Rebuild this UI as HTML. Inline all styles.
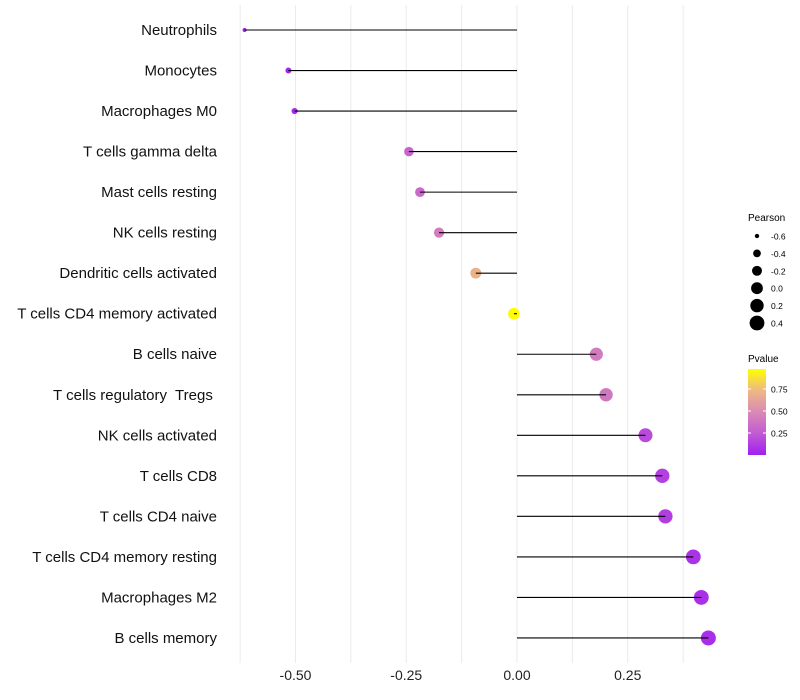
<!DOCTYPE html>
<html><head><meta charset="utf-8"><style>
body{margin:0;background:#fff;}
svg{display:block;font-family:"Liberation Sans",sans-serif;}
text{white-space:pre;}
</style></head><body>
<svg id="chart" width="800" height="700">
<defs>
<linearGradient id="pg" x1="0" y1="1" x2="0" y2="0">
<stop offset="0" stop-color="#a020f0"/>
<stop offset="0.25" stop-color="#c35ad4"/>
<stop offset="0.5" stop-color="#d98ab4"/>
<stop offset="0.75" stop-color="#eeb884"/>
<stop offset="1" stop-color="#ffff00"/>
</linearGradient>
</defs>
<g id="grid"></g>
<g id="marks"></g>
<g id="ylabels"></g>
<g id="xlabels"></g>
<g id="legend">
<text x="748" y="221" font-size="10" fill="#000">Pearson</text>
<text x="748" y="362" font-size="10" fill="#000">Pvalue</text>
<rect x="748" y="369" width="18" height="86" fill="url(#pg)"/>
</g>
</svg>
<script>
const categories=["Neutrophils","Monocytes","Macrophages M0","T cells gamma delta","Mast cells resting","NK cells resting","Dendritic cells activated","T cells CD4 memory activated","B cells naive","T cells regulatory  Tregs ","NK cells activated","T cells CD8","T cells CD4 naive","T cells CD4 memory resting","Macrophages M2","B cells memory"];
const pearson=[-0.615,-0.516,-0.502,-0.244,-0.219,-0.176,-0.093,-0.007,0.179,0.201,0.290,0.328,0.335,0.398,0.416,0.432];
const pvalue=[0.01,0.03,0.04,0.30,0.33,0.42,0.72,0.99,0.42,0.40,0.18,0.14,0.13,0.08,0.07,0.06];
const xTicks=[-0.5,-0.25,0,0.25];
const xTickLabels=["-0.50","-0.25","0.00","0.25"];
const xGrid=[-0.625,-0.5,-0.375,-0.25,-0.125,0,0.125,0.25,0.375];
const sizeLegendVals=[-0.6,-0.4,-0.2,0,0.2,0.4];
const sizeLegendLabels=["-0.6","-0.4","-0.2","0.0","0.2","0.4"];
const colorTicks=[0.25,0.5,0.75];
const colorTickLabels=["0.25","0.50","0.75"];

const NS="http://www.w3.org/2000/svg";
const x=v=>517+v*443;
const y=i=>30+i*40.53;
const SMIN=-0.615,SMAX=0.432,RMIN=2,RMAX=7.5;
const r=v=>{const t=Math.max(0,Math.min(1,(v-SMIN)/(SMAX-SMIN)));return Math.sqrt(RMIN*RMIN+t*(RMAX*RMAX-RMIN*RMIN));};
const cbY=v=>455-v*88;
function lerp(a,b,t){return a+(b-a)*t;}
const stops=[[0,[160,32,240]],[0.25,[195,90,212]],[0.5,[217,138,180]],[0.75,[238,184,132]],[1,[255,255,0]]];
function col(p){for(let k=0;k<stops.length-1;k++){const[a,ca]=stops[k],[b,cb]=stops[k+1];if(p<=b){const t=(p-a)/(b-a);return "rgb("+ca.map((c,j)=>Math.round(lerp(c,cb[j],t))).join(",")+")";}}return "rgb(255,255,0)";}
function mk(tag,attrs,parent){const e=document.createElementNS(NS,tag);for(const k in attrs)e.setAttribute(k,attrs[k]);parent.appendChild(e);return e;}
const grid=document.getElementById("grid"),marks=document.getElementById("marks"),yl=document.getElementById("ylabels"),xl=document.getElementById("xlabels"),lg=document.getElementById("legend");
xGrid.forEach(v=>{const l=mk("line",{x1:x(v),x2:x(v),y1:5,y2:663,stroke:"#ebebeb","stroke-width":1},grid);

});
categories.forEach((c,i)=>{
const cc=mk("circle",{cx:x(pearson[i]),cy:y(i),r:r(pearson[i]),fill:col(pvalue[i])},marks);


const l=mk("line",{x1:x(pearson[i]),x2:x(0),y1:y(i),y2:y(i),stroke:"#000","stroke-width":1.1},marks);


const t=mk("text",{x:217,y:y(i)+5,"text-anchor":"end","font-size":15,fill:"#111"},yl);t.textContent=c;


});
xTicks.forEach((v,i)=>{const t=mk("text",{x:x(v),y:680,"text-anchor":"middle","font-size":14,fill:"#222"},xl);t.textContent=xTickLabels[i];

});
sizeLegendVals.forEach((v,i)=>{const cy=236+i*17.4;
const c=mk("circle",{cx:757,cy:cy,r:r(v),fill:"#000"},lg);


const t=mk("text",{x:771,y:cy+3.5,"font-size":8.5,fill:"#000"},lg);t.textContent=sizeLegendLabels[i];

});
colorTicks.forEach((v,i)=>{
const a=mk("line",{x1:748,x2:751,y1:cbY(v),y2:cbY(v),stroke:"#fff"},lg);
const b=mk("line",{x1:763,x2:766,y1:cbY(v),y2:cbY(v),stroke:"#fff"},lg);
const t=mk("text",{x:771,y:cbY(v)+3.5,"font-size":8.5,fill:"#000"},lg);t.textContent=colorTickLabels[i];

});
</script>
</body></html>
